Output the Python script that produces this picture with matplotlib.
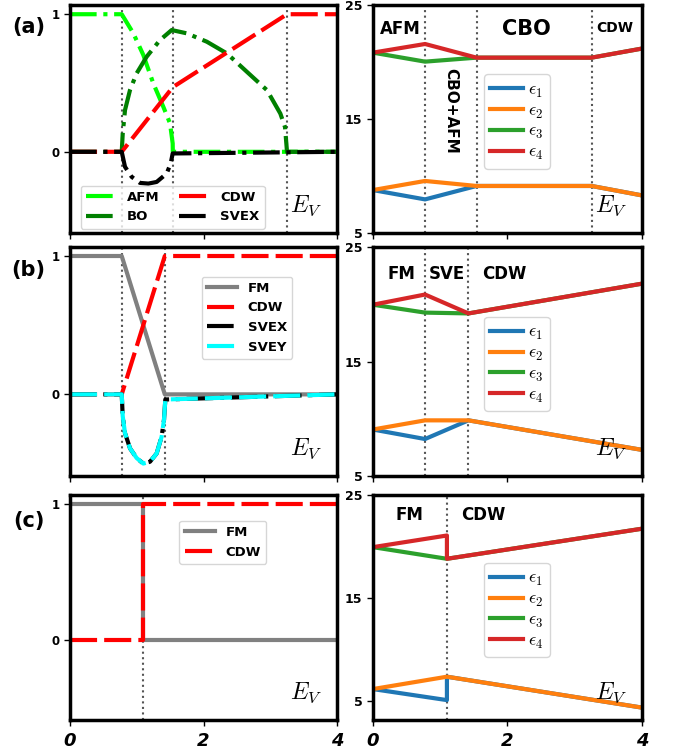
import matplotlib.pyplot as plt

plt.rcParams['mathtext.fontset'] = 'cm'
plt.rcParams['font.weight'] = 'bold'

# ---- panel (a) order parameters ----
a_trans = [0.775, 1.54, 3.25]
afm_x = [0, 0.775, 0.948, 1.098, 1.248, 1.398, 1.498, 1.538, 1.54, 4]
afm_y = [1, 1, 0.862, 0.704, 0.497, 0.327, 0.207, 0.061, 0, 0]
bo_x = [0, 0.775, 0.79, 0.824, 0.899, 0.998, 1.148, 1.348, 1.523, 1.75, 2.05,
        2.35, 2.65, 2.95, 3.15, 3.22, 3.25, 4]
bo_y = [0, 0, 0.133, 0.303, 0.449, 0.570, 0.691, 0.812, 0.885, 0.861, 0.80,
        0.715, 0.581, 0.448, 0.278, 0.18, 0, 0]
cdwa_x = [0, 0.775, 1.54, 3.25, 4]
cdwa_y = [0, 0, 0.47, 1, 1]
svexa_x = [0, 0.775, 0.824, 0.924, 1.048, 1.173, 1.298, 1.448, 1.508, 1.538, 4]
svexa_y = [0, 0, -0.109, -0.182, -0.226, -0.231, -0.219, -0.158, -0.085, -0.012, 0]

# ---- panel (b) order parameters ----
b_trans = [0.775, 1.42]
fmb_x = [0, 0.775, 1.42, 4]
fmb_y = [1, 1, 0, 0]
cdwb_x = [0, 0.775, 1.42, 4]
cdwb_y = [0, 0, 1, 1]
sve_x = [0, 0.775, 0.79, 0.824, 0.899, 0.998, 1.098, 1.198, 1.298, 1.373, 1.408, 1.428, 4]
sve_y = [0, 0, -0.158, -0.28, -0.39, -0.46, -0.5, -0.487, -0.427, -0.305, -0.183, -0.037, 0]

# ---- panel (c) order parameters ----
c_trans = [1.1]
fmc_x = [0, 1.1, 1.1, 4]
fmc_y = [1, 1, 0, 0]
cdwc_x = [0, 1.1, 1.1, 4]
cdwc_y = [0, 0, 1, 1]

# ---- eigenvalues ----
ea_x = [0, 0.775, 1.54, 3.25, 4]
ea_e1 = [8.77, 7.95, 9.13, 9.13, 8.3]
ea_e2 = [8.77, 9.57, 9.13, 9.13, 8.3]
ea_e3 = [20.84, 20.05, 20.4, 20.4, 21.2]
ea_e4 = [20.84, 21.6, 20.4, 20.4, 21.2]

eb_x = [0, 0.775, 1.42, 4]
eb_e1 = [9.06, 8.23, 9.86, 7.28]
eb_e2 = [9.06, 9.86, 9.86, 7.28]
eb_e3 = [19.96, 19.27, 19.2, 21.8]
eb_e4 = [19.96, 20.85, 19.2, 21.8]

ec_x = [0, 1.1, 1.1, 4]
ec_e1 = [6.2, 5.13, 7.4, 4.4]
ec_e2 = [6.2, 7.4, 7.4, 4.4]
ec_e3 = [19.97, 18.84, 18.84, 21.76]
ec_e4 = [19.97, 21.1, 18.84, 21.76]

fig = plt.figure(figsize=(6.78, 7.54), dpi=100)

rows = [(0.691, 0.302), (0.3687, 0.3037), (0.0451, 0.298)]
dash = (6.5, 1.7)


def style(ax, last):
    for s in ax.spines.values():
        s.set_linewidth(2.5)
    ax.set_xlim(0, 4)
    ax.set_xticks([0, 2, 4])
    ax.tick_params(direction='out', length=4, width=1)
    if last:
        ax.set_xticklabels(['0', '2', '4'], fontsize=13, fontweight='bold',
                           fontstyle='italic')
        ax.tick_params(axis='x', pad=5)
    else:
        ax.set_xticklabels([])


def ev_text(ax):
    ax.text(0.885, 0.12, '$E_V$', transform=ax.transAxes, fontsize=17,
            ha='center', va='center')


left = [fig.add_axes([0.1032, b, 0.394, h]) for b, h in rows]
right = [fig.add_axes([0.550, b, 0.397, h]) for b, h in rows]

# (a) left
ax = left[0]
for t in a_trans:
    ax.axvline(t, color='#555555', ls=':', lw=1.5)
ax.plot(afm_x, afm_y, color='lime', ls='-.', lw=3, label='AFM')
ax.plot(bo_x, bo_y, color='green', ls='-.', lw=3, label='BO')
ax.plot(cdwa_x, cdwa_y, color='red', ls='--', dashes=dash, lw=3, label='CDW')
ax.plot(svexa_x, svexa_y, color='black', ls='-.', lw=3, label='SVEX')
ax.legend(ncol=2, loc='lower left', bbox_to_anchor=(0.015, -0.01),
          prop={'weight': 'bold', 'size': 9.5}, handlelength=2.3,
          columnspacing=1.5)

# (b) left
ax = left[1]
for t in b_trans:
    ax.axvline(t, color='#555555', ls=':', lw=1.5)
ax.plot(fmb_x, fmb_y, color='gray', lw=3, label='FM')
ax.plot(cdwb_x, cdwb_y, color='red', ls='--', dashes=dash, lw=3, label='CDW')
ax.plot(sve_x, sve_y, color='black', ls='-.', lw=3, label='SVEX')
ax.plot(sve_x, sve_y, color='cyan', ls='--', dashes=dash, lw=3, label='SVEY')
ax.legend(loc='upper left', bbox_to_anchor=(0.468, 0.9),
          prop={'weight': 'bold', 'size': 9.5}, handlelength=2.3)

# (c) left
ax = left[2]
for t in c_trans:
    ax.axvline(t, color='#555555', ls=':', lw=1.5)
ax.plot(fmc_x, fmc_y, color='gray', lw=3, label='FM')
ax.plot(cdwc_x, cdwc_y, color='red', ls='--', dashes=dash, lw=3, label='CDW')
ax.legend(loc='upper left', bbox_to_anchor=(0.385, 0.916),
          prop={'weight': 'bold', 'size': 9.5}, handlelength=2.3)

for i, ax in enumerate(left):
    style(ax, i == 2)
    ax.set_ylim(-0.59, 1.065)
    ax.set_yticks([0, 1])
    ax.set_yticklabels(['0', '1'], fontsize=8.5, fontweight='bold')
    ev_text(ax)

for lab, y in zip(['(a)', '(b)', '(c)'], [0.964, 0.642, 0.309]):
    fig.text(0.042, y, lab, fontsize=15, fontweight='bold',
             ha='center', va='center')

# right panels
eig = [(ea_x, ea_e1, ea_e2, ea_e3, ea_e4, a_trans),
       (eb_x, eb_e1, eb_e2, eb_e3, eb_e4, b_trans),
       (ec_x, ec_e1, ec_e2, ec_e3, ec_e4, c_trans)]
for i, (ax, (x, e1, e2, e3, e4, tr)) in enumerate(zip(right, eig)):
    for t in tr:
        ax.axvline(t, color='#555555', ls=':', lw=1.5)
    ax.plot(x, e1, color='C0', lw=3, label=r'$\epsilon_1$')
    ax.plot(x, e2, color='C1', lw=3, label=r'$\epsilon_2$')
    ax.plot(x, e3, color='C2', lw=3, label=r'$\epsilon_3$')
    ax.plot(x, e4, color='C3', lw=3, label=r'$\epsilon_4$')
    ax.legend(loc='center', bbox_to_anchor=(0.535, 0.49), fontsize=13,
              handlelength=1.8, labelspacing=0.1, handletextpad=0.3,
              borderpad=0.35)
    style(ax, i == 2)
    ax.set_ylim(5 if i < 2 else 3.2, 25)
    ax.set_yticks([5, 15, 25])
    ax.set_yticklabels(['5', '15', '25'], fontsize=9, fontweight='bold')
    ev_text(ax)

ax = right[0]
ax.text(0.40, 22.9, 'AFM', fontsize=12, fontweight='bold', ha='center', va='center')
ax.text(2.28, 22.9, 'CBO', fontsize=15, fontweight='bold', ha='center', va='center')
ax.text(3.6, 23.0, 'CDW', fontsize=10, fontweight='bold', ha='center', va='center')
ax.text(1.15, 15.7, 'CBO+AFM', fontsize=11, fontweight='bold', rotation=-90,
        ha='center', va='center')

ax = right[1]
ax.text(0.43, 22.6, 'FM', fontsize=12, fontweight='bold', ha='center', va='center')
ax.text(1.10, 22.6, 'SVE', fontsize=12, fontweight='bold', ha='center', va='center')
ax.text(1.96, 22.6, 'CDW', fontsize=12, fontweight='bold', ha='center', va='center')

ax = right[2]
ax.text(0.55, 23.05, 'FM', fontsize=12, fontweight='bold', ha='center', va='center')
ax.text(1.64, 23.05, 'CDW', fontsize=12, fontweight='bold', ha='center', va='center')

fig.savefig('out.png', dpi=100)
